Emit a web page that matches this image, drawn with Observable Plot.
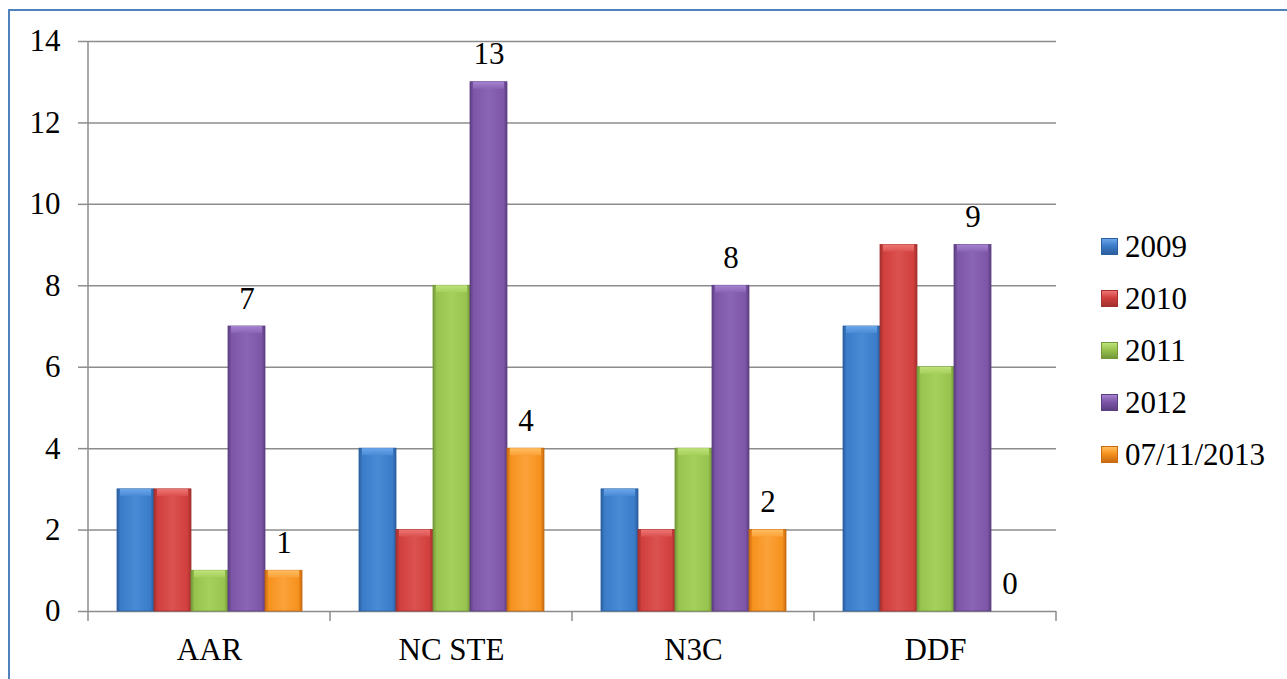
<!DOCTYPE html>
<html>
<head>
<meta charset="utf-8">
<script src="https://cdn.jsdelivr.net/npm/d3@7"></script>
<script src="https://cdn.jsdelivr.net/npm/@observablehq/plot@0.6"></script>
<style>
  html, body { margin: 0; padding: 0; background: #fff; }
  #wrap { position: relative; width: 1287px; height: 679px; overflow: hidden; font-family: "Liberation Serif", "Times New Roman", serif; }
  #border { position: absolute; left: 8px; top: 9px; width: 1300px; height: 700px; border-left: 2px solid #4f81bd; border-top: 2px solid #4f81bd; box-sizing: border-box; }
  #legend { position: absolute; left: 1101px; top: 220px; }
  .item { position: relative; height: 52px; display: flex; align-items: center; }
  .sw { width: 17px; height: 17px; box-sizing: border-box; margin-right: 7px; }
  .lab { font-size: 31px; line-height: 31px; color: #000; }
</style>
</head>
<body>
<div id="wrap">
  <div id="border"></div>
  <div id="chart"></div>
  <div id="legend"></div>
</div>
<script>
const categories = ["AAR", "NC STE", "N3C", "DDF"];
const seriesNames = ["2009", "2010", "2011", "2012", "07/11/2013"];
const values2009 = [3, 4, 3, 7];
const values2010 = [3, 2, 2, 9];
const values2011 = [1, 8, 4, 6];
const values2012 = [7, 13, 8, 9];
const values2013 = [1, 4, 2, 0];
const labeledSeries = ["2012", "07/11/2013"];
const yTicks = [0, 2, 4, 6, 8, 10, 12, 14];

const seriesValues = [values2009, values2010, values2011, values2012, values2013];
// colours: [edge, base, light, cap]
const seriesColors = [
  ["#2c5f9e", "#3b7cc9", "#4a8bd6", "#6aa6ea"],
  ["#a3302e", "#d03f3d", "#db5250", "#ee7573"],
  ["#74983a", "#98c34e", "#a6d05c", "#bde27a"],
  ["#5c3f82", "#7d56a8", "#8a64b5", "#a583cf"],
  ["#c96a10", "#f6921e", "#fba23a", "#ffbd5e"]
];

const data = [];
seriesNames.forEach((s, i) => {
  categories.forEach((c, j) => data.push({category: c, series: s, value: seriesValues[i][j]}));
});

const font = '"Liberation Serif", "Times New Roman", serif';

const barMarks = seriesNames.flatMap((s, i) => [
  Plot.barY(data.filter(d => d.series === s), {
    fx: "category", x: "series", y: "value",
    fill: `url(#grad${i})`, stroke: seriesColors[i][0], strokeWidth: 0.8
  }),
  Plot.barY(data.filter(d => d.series === s && d.value > 0), {
    fx: "category", x: "series", y1: "value", y2: "value",
    insetBottom: -7, insetLeft: 3, insetRight: 3,
    fill: `url(#cap${i})`
  })
]);

const plot = Plot.plot({
  width: 1287,
  height: 679,
  marginLeft: 86,
  marginRight: 230,
  marginTop: 41,
  marginBottom: 68,
  style: {fontFamily: font, fontSize: "31px", color: "#000", background: "transparent", overflow: "visible"},
  fx: {domain: categories, padding: 0, label: null, axis: null},
  x: {domain: seriesNames, paddingInner: 0, paddingOuter: 0.714, axis: null},
  y: {domain: [0, 14], axis: null},
  marks: [
    Plot.ruleY(yTicks, {stroke: "#8c8c8c", strokeWidth: 1.5}),
    Plot.axisY({ticks: yTicks, tickSize: 10, tickPadding: 18, stroke: "#8c8c8c", strokeWidth: 1.5, label: null, fontSize: 31, fill: "#000", fontFamily: font}),
    ...barMarks,
    Plot.text(data.filter(d => labeledSeries.includes(d.series)), {
      fx: "category", x: "series", y: "value", text: d => String(d.value),
      lineAnchor: "bottom", dy: -18, fontSize: 31, fill: "#000", fontFamily: font
    }),
    Plot.axisFx({anchor: "bottom", tickSize: 0, tickPadding: 26, label: null, fontSize: 31, fill: "#000", fontFamily: font})
  ]
});

// gradient definitions for the bevelled bars
const svg = d3.select(plot.tagName === "svg" ? plot : plot.querySelector("svg"));
const defs = svg.insert("defs", ":first-child");
seriesColors.forEach((c, i) => {
  const g = defs.append("linearGradient").attr("id", `grad${i}`).attr("x1", 0).attr("x2", 1).attr("y1", 0).attr("y2", 0);
  [[0, c[0]], [0.1, c[1]], [0.5, c[2]], [0.9, c[1]], [1, c[0]]].forEach(([o, col]) =>
    g.append("stop").attr("offset", o).attr("stop-color", col));
  const k = defs.append("linearGradient").attr("id", `cap${i}`).attr("x1", 0).attr("x2", 0).attr("y1", 0).attr("y2", 1);
  [[0, c[3]], [1, c[2]]].forEach(([o, col]) =>
    k.append("stop").attr("offset", o).attr("stop-color", col));
});

// y axis line and category boundary ticks, positioned with the plot's own scales
const fxS = plot.scale("fx");
const yS = plot.scale("y");
const y0 = yS.apply(0);
const yTop = yS.apply(14);
const left = fxS.apply(categories[0]);
const g = svg.append("g").attr("stroke", "#8c8c8c").attr("stroke-width", 1.5);
g.append("line").attr("x1", left).attr("x2", left).attr("y1", yTop).attr("y2", y0 + 10);
categories.forEach(c => {
  const xr = fxS.apply(c) + fxS.bandwidth;
  g.append("line").attr("x1", xr).attr("x2", xr).attr("y1", y0).attr("y2", y0 + 10);
});

document.getElementById("chart").appendChild(plot);

// legend
const legend = d3.select("#legend");
seriesNames.forEach((s, i) => {
  const c = seriesColors[i];
  const item = legend.append("div").attr("class", "item");
  item.append("div").attr("class", "sw")
    .style("background", `linear-gradient(180deg, ${c[3]} 0%, ${c[1]} 45%, ${c[0]} 100%)`)
    .style("border", `1px solid ${c[0]}`);
  item.append("div").attr("class", "lab").text(s);
});
</script>
</body>
</html>
